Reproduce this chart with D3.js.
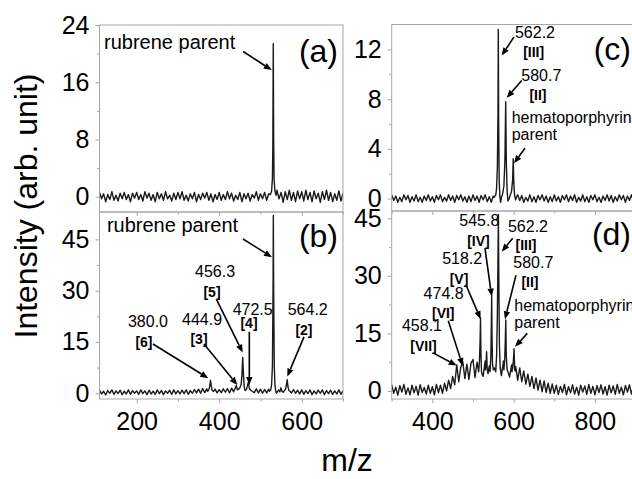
<!DOCTYPE html>
<html>
<head>
<meta charset="utf-8">
<script src="https://cdn.jsdelivr.net/npm/d3@7"></script>
<style>
  body { margin: 0; background: #fff; }
  text { font-family: "Liberation Sans", Arial, sans-serif; fill: #000; }
</style>
</head>
<body>
<div id="chart"></div>
<script type="text/javascript">
// flat parts of every trace are read every 5 m/z
const gridLeft = { start: 110, step: 5 };   // panels (a), (b): 110..700
const gridRight = { start: 300, step: 5 };  // panels (c), (d): 300..900

// (a) rubrene only
const baseA = [
  0.6,-0.3,0.4,-0.7,0.3,-0.4,0.7,-0.5,0.2,-0.6,0.5,-0.3,0.6,-0.4,0.3,-0.7,0.5,-0.2,0.6,
  -0.4,0.3,-0.6,0.7,-0.2,0.5,-0.5,0.3,-0.7,0.6,-0.3,0.4,-0.5,0.7,-0.3,0.2,-0.6,0.5,-0.4,0.6,
  -0.3,0.7,-0.5,0.2,-0.6,0.4,-0.3,0.6,-0.7,0.3,-0.4,0.5,-0.2,0.6,-0.5,0.4,-0.7,0.3,-0.4,0.6,
  -0.5,0.3,-0.4,0.7,-0.3,0.5,-0.6,0.2,-0.4,0.6,-0.7,0.4,-0.3,0.5,-0.6,0.3,-0.2,0.7,-0.5,0.4,
  -0.3,0.6,-0.5,0.4,-0.7,0.3,-0.4,0.9,-0.3,0.6,-0.8,0.7,-0.4,0.9,-0.5,0.6,-0.7,0.8,-0.3,0.7,
  -0.6,0.9,-0.4,0.6,-0.7,0.8,-0.3,0.5,-0.8,0.7,-0.4,0.9,-0.5,0.6,-0.7,0.4,-0.5,0.8,-0.6,0.5
];
const peaksA = [
  [[524,0.3],[527,0.8],[529,2.5],[530,7],[531,21.4],[532,8],[533,2.5],[535,0.8],[538,0.2]]
];

// (b) rubrene + hematoporphyrin
const baseB = [
  0.9,-0.2,0.6,-0.5,0.8,0.0,1.0,-0.3,0.7,-0.1,0.9,-0.4,0.6,-0.2,1.0,-0.3,0.8,0.0,0.7,
  -0.3,1.0,-0.1,0.7,-0.4,0.9,-0.2,0.6,-0.3,1.0,-0.1,0.8,-0.4,0.7,0.0,0.9,-0.3,1.0,-0.2,0.8,
  -0.2,0.9,-0.1,1.0,-0.3,0.8,0.0,1.1,0.1,1.2,0.0,1.4,0.2,1.3,0.5,1.0,0.6,1.2,0.1,1.1,
  0.2,1.3,0.3,1.4,0.1,1.5,0.4,1.6,0.2,1.4,0.5,1.2,0.4,1.3,0.5,1.2,0.2,1.3,0.1,1.2,
  0.0,1.1,0.1,1.2,0.3,0.8,0.4,0.6,0.2,0.5,0.7,0.3,0.6,0.8,0.1,1.1,0.0,0.9,-0.2,1.0,
  -0.3,0.8,-0.1,1.0,-0.4,0.7,-0.2,0.9,0.0,1.0,-0.4,0.8,-0.1,0.9,-0.3,0.7,-0.2,1.0,-0.3,0.8
];
const peaksB = [
  [[372,0.6],[375,1.0],[377,2],[379,3.8],[381,2],[383,0.8],[386,0.5]],
  [[436,0.8],[439,1.5],[441.5,2.3],[444,1.0],[447,1.2],[450,1.6],[453,2.5],[455,5],[457,10.5],
   [459,5],[461,1.5],[463,0.8],[466,1.2],[468,2],[470.5,3.2],[473,1.5],[476,0.9],[480,0.6]],
  [[522,0.6],[525,1.0],[527,2.5],[529,8],[530.5,30],[531.2,52],[532,30],[533.5,8],[535,2.5],
   [537,0.6],[539,0.0],[541,0.5],[544,1.0],[547,0.4],[549.5,1.6],[552,0.6],[555,0.3],[558,0.8],
   [561,1.2],[563,2.5],[564.8,4.0],[566.5,2],[569,0.8],[572,0.5]]
];

// (c) hematoporphyrin only
const baseC = [
  0.3,-0.15,0.2,-0.3,0.1,-0.25,0.3,-0.1,0.25,-0.3,0.15,-0.2,0.3,-0.25,0.1,-0.3,0.2,-0.15,0.3,-0.2,
  0.15,-0.3,0.25,-0.1,0.3,-0.25,0.1,-0.2,0.3,-0.15,0.2,-0.3,0.25,-0.1,0.3,-0.2,0.15,-0.3,0.2,-0.25,
  0.3,-0.15,0.2,-0.3,0.25,-0.1,0.3,-0.25,0.15,-0.3,0.2,0.3,2.0,0.1,-0.2,0.3,1.0,3.0,0.3,0.6,
  0.2,-0.3,0.3,-0.15,0.25,-0.3,0.1,-0.2,0.3,-0.25,0.15,-0.3,0.25,-0.1,0.3,-0.2,0.2,-0.3,0.15,-0.25,
  0.3,-0.2,0.15,-0.3,0.25,-0.1,0.3,-0.25,0.2,-0.15,0.3,-0.3,0.1,-0.2,0.3,-0.25,0.15,-0.3,0.25,-0.1,
  0.3,-0.25,0.1,-0.3,0.2,-0.15,0.3,-0.2,0.25,-0.3,0.15,-0.2,0.3,-0.1,0.25,-0.3,0.2,-0.15,0.3,-0.25,0.2
];
const peaksC = [
  [[552,0.1],[556,0.3],[558,0.8],[560,2.5],[561.5,7],[562.3,13.6],[563.2,6],[564.5,1.5],[566,0.2],
   [568,-0.3],[570,0.1],[573,0.4],[576,1.0],[578.5,3],[580.5,7.8],[582,3],[584,0.6],[586,-0.2],
   [589,0.0],[592,0.3],[595,0.6],[597.5,1.5],[599,3.2],[600.5,1.2],[602.5,0.2],[605,-0.1],[608,0.2]]
];

// (d) mixture, fragment series on a broad hump
const baseD = [
  1.6,-0.6,1.0,-1.1,1.4,-0.3,1.7,-0.9,0.8,-1.0,1.5,-0.5,1.2,-1.1,1.6,-0.4,0.9,-0.8,1.5,-0.6,
  1.1,-1.0,1.7,-0.4,1.5,-0.6,2.0,0.0,2.8,0.6,3.8,1.6,6.8,2.4,6.2,7.6,3.2,7.0,3.0,7.2,
  8.2,3.5,7.5,4.5,6.0,3.8,7.8,6.0,6.5,6.0,5.5,7.0,6.0,6.0,4.0,7.8,6.0,6.0,3.6,6.8,
  6.0,6.4,2.8,6.0,2.4,5.2,1.8,4.4,1.2,3.8,0.6,3.4,0.2,2.8,-0.2,2.6,-0.4,2.0,-0.6,1.8,
  -0.6,1.5,-0.9,1.2,-0.4,1.7,-1.0,1.1,-0.5,1.6,-0.8,1.0,-1.1,1.5,-0.3,1.3,-0.9,1.7,-0.6,1.2,
  -1.0,1.4,-0.4,1.6,-0.8,1.1,-1.1,1.5,-0.5,1.3,-0.9,1.7,-0.6,1.0,-1.0,1.4,-0.3,1.6,-0.8,1.2,-0.6
];
const peaksD = [
  [[514,5.0],[516,8],[517.5,13],[518.5,19],[519.5,10],[521,5],[523,4.2]],
  [[530.5,5.5],[532,6.5],[533.5,10.2],[535,5.5],[537,4.5]],
  [[542,5.0],[544,9],[545.3,18],[546,25],[546.8,15],[548,7],[550,5.5],[553,6],[556,5],[558,9],
   [560,20],[561.5,35],[562.5,46],[563.5,30],[565,12],[567,6],[569,4.5]],
  [[576,5.5],[578,8],[579.5,13],[580.7,18.5],[582,9],[584,5.5],[586,5]],
  [[596,5],[598,6.5],[599.5,8],[601,11],[602.5,5.5],[604,5.2]]
];

// annotations, in data units of their panel
const notesA = [
  { t: 'rubrene parent', x: 121, y: 20.7, k: 'name' }
];
const arrowsA = [[458, 20.3, 527.3, 17.7]];

const notesB = [
  { t: 'rubrene parent', x: 128, y: 47.1, k: 'name' },
  { t: '456.3', x: 389.9, y: 34.0, k: 'num' }, { t: '[5]', x: 382.6, y: 28.1, k: 'tag' },
  { t: '472.5', x: 481.2, y: 22.9, k: 'num' }, { t: '[4]', x: 472.3, y: 19.2, k: 'tag' },
  { t: '380.0', x: 227.5, y: 19.5, k: 'num' }, { t: '[6]', x: 217.8, y: 13.6, k: 'tag' },
  { t: '444.9', x: 358.4, y: 20.0, k: 'num' }, { t: '[3]', x: 351.1, y: 14.3, k: 'tag' },
  { t: '564.2', x: 614.5, y: 22.9, k: 'num' }, { t: '[2]', x: 605.5, y: 17.0, k: 'tag' }
];
const arrowsB = [
  [457.7, 45.1, 528, 39.8], [394, 27.3, 457, 11.9], [473, 18, 473, 2.4],
  [239.6, 14.4, 373.6, 4.4], [363.2, 14.4, 443.9, 2.4], [605.5, 16.5, 565, 4.9]
];

const notesC = [
  { t: '562.2', x: 652.5, y: 12.9, k: 'num' }, { t: '[III]', x: 649.3, y: 11.4, k: 'tag' },
  { t: '580.7', x: 668, y: 9.45, k: 'num' }, { t: '[II]', x: 659.9, y: 7.9, k: 'tag' },
  { t: 'hematoporphyrin', x: 595.2, y: 6.06, k: 'side' }, { t: 'parent', x: 595.2, y: 4.7, k: 'side' }
];
const arrowsC = [[600.9, 13.0, 570.6, 11.5], [619.8, 9.5, 582.9, 8.1], [627.9, 4.05, 600.9, 2.84]];

const notesD = [
  { t: '545.8', x: 515.5, y: 43.0, k: 'num' }, { t: '[IV]', x: 513.5, y: 37.9, k: 'tag' },
  { t: '562.2', x: 635.3, y: 41.5, k: 'num' }, { t: '[III]', x: 630.4, y: 36.7, k: 'tag' },
  { t: '518.2', x: 473.4, y: 33.1, k: 'num' }, { t: '[V]', x: 465.6, y: 27.9, k: 'tag' },
  { t: '580.7', x: 648.3, y: 32.1, k: 'num' }, { t: '[II]', x: 640.2, y: 27.0, k: 'tag' },
  { t: '474.8', x: 427.8, y: 24.0, k: 'num' }, { t: '[VI]', x: 426.9, y: 18.9, k: 'tag' },
  { t: '458.1', x: 374.5, y: 15.7, k: 'num' }, { t: '[VII]', x: 378.2, y: 10.5, k: 'tag' },
  { t: 'hematoporphyrin', x: 601.6, y: 20.9, k: 'side' }, { t: 'parent', x: 601.6, y: 16.3, k: 'side' }
];
const arrowsD = [
  [529.5, 37.2, 546, 24.6], [597.7, 39.8, 570.6, 36.3], [482.8, 27.6, 518.9, 18.7],
  [605.8, 30.2, 578.7, 18.7], [439.2, 18.3, 474.7, 6.5], [404.1, 9.8, 459.9, 6.6],
  [633.6, 15.0, 603.3, 11.5]
];

const xTicksLeft = [200, 400, 600], xMinorLeft = [300, 500, 700];
const xTicksRight = [400, 600, 800], xMinorRight = [300, 500, 700, 900];

(() => {
  const W = 632, H = 479;
  const frame = '#a6a6a6';
  const font = '"Liberation Sans", Arial, sans-serif';

  let svg = d3.select('#chart').append('svg')
    .attr('width', W).attr('height', H)
    .style('display', 'block');

  // merge the sampled baseline with the finer peak readings
  let buildTrace = (grid, base, peaks) => {
    let pts = base.map((v, i) => [grid.start + grid.step * i, v]);
    peaks.forEach(p => {
      let lo = p[0][0], hi = p[p.length - 1][0];
      pts = pts.filter(d => d[0] < lo || d[0] > hi);
    });
    peaks.forEach(p => { pts = pts.concat(p); });
    return pts.sort((a, b) => a[0] - b[0]);
  };

  let panels = [
    { id: 'a', box: [99.5, 343, 25, 212], xd: [110, 700], yd: [-2.14, 24],
      yt: [0, 8, 16, 24], ym: [4, 12, 20], xt: xTicksLeft, xm: xMinorLeft, xLabels: false,
      data: buildTrace(gridLeft, baseA, peaksA), notes: notesA, arrows: arrowsA, tagY: 62 },
    { id: 'b', box: [99.5, 343, 212, 399], xd: [110, 700], yd: [-1.67, 53],
      yt: [0, 15, 30, 45], ym: [7.5, 22.5, 37.5], xt: xTicksLeft, xm: xMinorLeft, xLabels: true,
      data: buildTrace(gridLeft, baseB, peaksB), notes: notesB, arrows: arrowsB, tagY: 247 },
    { id: 'c', box: [391.7, 676.2, 24.5, 211], xd: [300, 1000], yd: [-1, 14],
      yt: [0, 4, 8, 12], ym: [2, 6, 10], xt: xTicksRight, xm: xMinorRight, xLabels: false,
      data: buildTrace(gridRight, baseC, peaksC), notes: notesC, arrows: arrowsC, tagY: 60 },
    { id: 'd', box: [391.7, 676.2, 211, 399], xd: [300, 1000], yd: [-2.1, 46.9],
      yt: [0, 15, 30, 45], ym: [7.5, 22.5, 37.5], xt: xTicksRight, xm: xMinorRight, xLabels: true,
      data: buildTrace(gridRight, baseD, peaksD), notes: notesD, arrows: arrowsD, tagY: 245 }
  ];

  let defs = svg.append('defs');

  panels.forEach(p => {
    let [x0, x1, y0, y1] = p.box;
    let x = d3.scaleLinear().domain(p.xd).range([x0, x1]);
    let y = d3.scaleLinear().domain(p.yd).range([y1, y0]);
    let g = svg.append('g').attr('class', 'panel-' + p.id);

    defs.append('clipPath').attr('id', 'clip-' + p.id)
      .append('rect').attr('x', x0).attr('y', y0).attr('width', x1 - x0).attr('height', y1 - y0);

    // spectrum
    let line = d3.line().x(d => x(d[0])).y(d => y(d[1]));
    g.append('path')
      .datum(p.data)
      .attr('clip-path', 'url(#clip-' + p.id + ')')
      .attr('fill', 'none')
      .attr('stroke', '#1a1a1a')
      .attr('stroke-width', 1.4)
      .attr('stroke-linejoin', 'round')
      .attr('d', line);

    // frame
    g.append('rect')
      .attr('x', x0).attr('y', y0).attr('width', x1 - x0).attr('height', y1 - y0)
      .attr('fill', 'none').attr('stroke', frame).attr('stroke-width', 1);

    // y axis
    let yAxis = d3.axisLeft(y).tickValues(p.yt).tickSize(4).tickPadding(6).tickFormat(d3.format('d'));
    let ya = g.append('g').attr('transform', `translate(${x0},0)`).call(yAxis);
    ya.select('.domain').remove();
    ya.selectAll('line').attr('stroke', frame);
    ya.selectAll('text').attr('font-size', 25).attr('fill', '#000').attr('font-family', font);
    g.append('g').attr('transform', `translate(${x0},0)`)
      .call(d3.axisLeft(y).tickValues(p.ym).tickSize(2.5).tickFormat(''))
      .call(s => s.select('.domain').remove())
      .selectAll('line').attr('stroke', frame);

    // x axis ticks along the bottom of each panel
    let xAxis = d3.axisBottom(x).tickValues(p.xt).tickSize(4).tickPadding(9)
      .tickFormat(p.xLabels ? d3.format('d') : '');
    let xa = g.append('g').attr('transform', `translate(0,${y1})`).call(xAxis);
    xa.select('.domain').remove();
    xa.selectAll('line').attr('stroke', frame);
    xa.selectAll('text').attr('font-size', 25).attr('fill', '#000').attr('font-family', font);
    g.append('g').attr('transform', `translate(0,${y1})`)
      .call(d3.axisBottom(x).tickValues(p.xm).tickSize(2.5).tickFormat(''))
      .call(s => s.select('.domain').remove())
      .selectAll('line').attr('stroke', frame);

    // panel tag
    g.append('text')
      .attr('x', p.id == 'a' || p.id == 'b' ? 338 : 631)
      .attr('y', p.tagY)
      .attr('text-anchor', 'end')
      .attr('font-size', 32)
      .text('(' + p.id + ')');

    // peak labels
    let styles = {
      name: { size: 20, weight: 'normal', anchor: 'start' },
      num: { size: 16, weight: 'normal', anchor: 'middle' },
      tag: { size: 14, weight: 'bold', anchor: 'middle' },
      side: { size: 16, weight: 'normal', anchor: 'start' }
    };
    g.selectAll('text.note')
      .data(p.notes)
      .enter().append('text')
      .attr('class', 'note')
      .attr('x', d => x(d.x))
      .attr('y', d => y(d.y))
      .attr('font-size', d => styles[d.k].size)
      .attr('font-weight', d => styles[d.k].weight)
      .attr('text-anchor', d => styles[d.k].anchor)
      .text(d => d.t);

    // arrows
    p.arrows.forEach(a => {
      let sx = x(a[0]), sy = y(a[1]), ex = x(a[2]), ey = y(a[3]);
      let ang = Math.atan2(ey - sy, ex - sx);
      let len = 8, half = 3.2;
      let bx = ex - len * Math.cos(ang), by = ey - len * Math.sin(ang);
      g.append('line')
        .attr('x1', sx).attr('y1', sy).attr('x2', bx).attr('y2', by)
        .attr('stroke', '#000').attr('stroke-width', 1.6);
      g.append('path')
        .attr('d', d3.line()([
          [ex, ey],
          [bx + half * Math.sin(ang), by - half * Math.cos(ang)],
          [bx - half * Math.sin(ang), by + half * Math.cos(ang)]
        ]) + 'Z')
        .attr('fill', '#000');
    });
  });

  // shared axis titles
  svg.append('text')
    .attr('transform', 'translate(37,206) rotate(-90)')
    .attr('text-anchor', 'middle')
    .attr('font-size', 32)
    .text('Intensity (arb. unit)');

  svg.append('text')
    .attr('x', 347).attr('y', 471)
    .attr('text-anchor', 'middle')
    .attr('font-size', 32)
    .text('m/z');
})();
</script>
</body>
</html>
